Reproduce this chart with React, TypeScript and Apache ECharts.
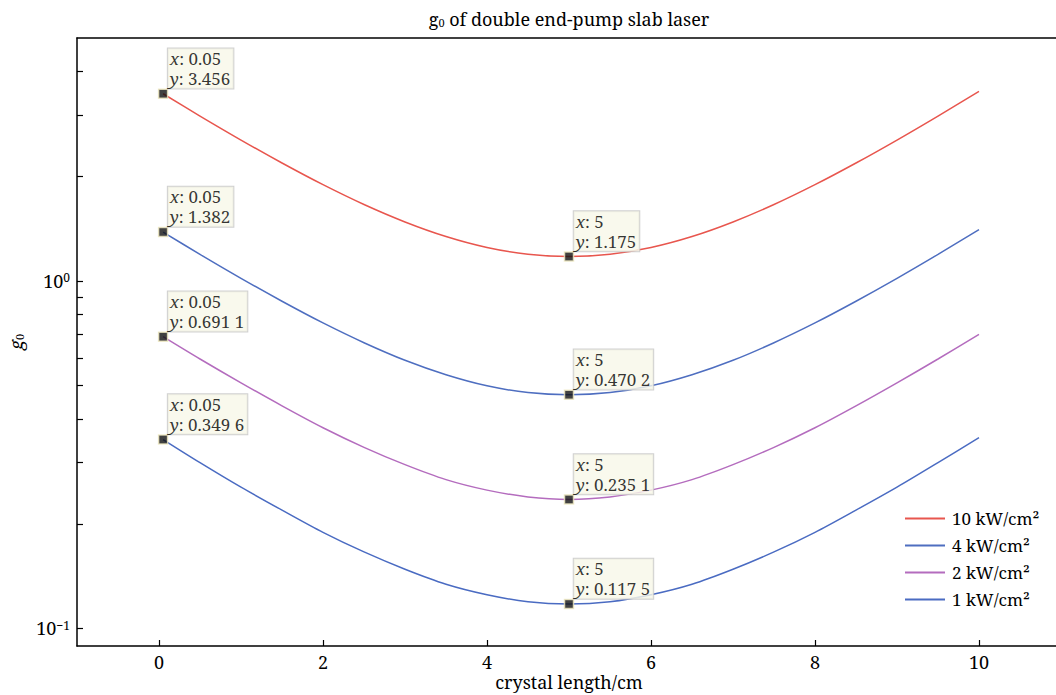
import React, { useEffect, useRef } from "react";
import * as echarts from "echarts";

const xValues = [0.05, 0.5, 1, 1.5, 2, 2.5, 3, 3.5, 4, 4.5, 5, 5.5, 6, 6.5, 7, 7.5, 8, 8.5, 9, 9.5, 10];
const g10 = [3.456, 2.981, 2.543, 2.184, 1.892, 1.659, 1.478, 1.342, 1.248, 1.193, 1.175, 1.193, 1.248, 1.342, 1.478, 1.659, 1.892, 2.184, 2.543, 2.981, 3.511];
const g4 = [1.382, 1.192, 1.017, 0.874, 0.757, 0.664, 0.591, 0.537, 0.499, 0.477, 0.4702, 0.477, 0.499, 0.537, 0.591, 0.664, 0.757, 0.874, 1.017, 1.192, 1.404];
const g2 = [0.6911, 0.596, 0.509, 0.437, 0.378, 0.332, 0.296, 0.268, 0.25, 0.239, 0.2351, 0.239, 0.25, 0.268, 0.296, 0.332, 0.378, 0.437, 0.509, 0.596, 0.702];
const g1 = [0.3496, 0.3, 0.255, 0.219, 0.189, 0.166, 0.148, 0.134, 0.125, 0.1193, 0.1175, 0.1193, 0.125, 0.134, 0.148, 0.166, 0.189, 0.219, 0.255, 0.3, 0.354];

const seriesNames = ["10 kW/cm²", "4 kW/cm²", "2 kW/cm²", "1 kW/cm²"];
const seriesColors = ["#e8564e", "#4e6ec0", "#b46cbe", "#4a6bc2"];
const seriesValues = [g10, g4, g2, g1];

const tipX = [0.05, 5, 0.05, 5, 0.05, 5, 0.05, 5];
const tipY = [3.456, 1.175, 1.382, 0.4702, 0.6911, 0.2351, 0.3496, 0.1175];
const tipXText = ["0.05", "5", "0.05", "5", "0.05", "5", "0.05", "5"];
const tipYText = ["3.456", "1.175", "1.382", "0.470 2", "0.691 1", "0.235 1", "0.349 6", "0.117 5"];

const xTicks = [0, 2, 4, 6, 8, 10];
const yMinorTicks = [0.1, 0.2, 0.3, 0.4, 0.5, 0.6, 0.7, 0.8, 0.9, 1, 2, 3, 4];
const yLabelTicks = [0.1, 1];

const FONT = "Noto Serif";

export default function App() {
  const ref = useRef<HTMLDivElement>(null);
  useEffect(() => {
    if (!ref.current) return;
    const chart = echarts.init(ref.current, undefined, { renderer: "svg" });
    const lineSeries = seriesNames.map((name, i) => ({
      name,
      type: "line",
      data: xValues.map((x, j) => [x, seriesValues[i][j]]),
      showSymbol: false,
      symbol: "none",
      smooth: 0.3,
      lineStyle: { color: seriesColors[i], width: 1.5 },
      itemStyle: { color: seriesColors[i] },
      z: 2,
    }));
    chart.setOption({
      animation: false,
      backgroundColor: "#fff",
      textStyle: { fontFamily: FONT },
      title: {
        text: "{g|g}{s|0}{t| of double end-pump slab laser}",
        left: 564,
        top: 5,
        textAlign: "center",
        textStyle: {
          fontFamily: FONT,
          fontSize: 18,
          fontWeight: "normal",
          color: "#000",
          rich: {
            g: { fontFamily: FONT, fontSize: 18, color: "#000" },
            s: { fontFamily: FONT, fontSize: 11, color: "#000", verticalAlign: "bottom" },
            t: { fontFamily: FONT, fontSize: 18, color: "#000" },
          },
        },
      },
      grid: {
        left: 77,
        top: 38,
        width: 984,
        height: 608,
        outerBoundsMode: "none",
        containLabel: false,
        show: false,
      },
      legend: {
        data: seriesNames,
        orient: "vertical",
        left: 905,
        top: 510,
        padding: 0,
        icon: "rect",
        itemWidth: 40,
        itemHeight: 2,
        itemGap: 10,
        textStyle: { fontFamily: FONT, fontSize: 17, color: "#000", padding: [0, 0, 0, 2] },
      },
      xAxis: [
        {
          type: "value",
          min: -1,
          max: 11,
          name: "crystal length/cm",
          nameLocation: "middle",
          nameGap: 27,
          nameMoveOverlap: false,
          nameTextStyle: { fontFamily: FONT, fontSize: 18, color: "#000" },
          axisLine: { show: true, onZero: false, lineStyle: { color: "#000", width: 1.5 } },
          axisTick: { show: true, inside: true, length: 6, customValues: xTicks, lineStyle: { color: "#000", width: 1.2 } },
          axisLabel: { customValues: xTicks, margin: 7, fontFamily: FONT, fontSize: 18, color: "#000" },
          splitLine: { show: false },
        },
        {
          type: "value",
          position: "top",
          min: -1,
          max: 11,
          axisLine: { show: true, onZero: false, lineStyle: { color: "#000", width: 1.5 } },
          axisTick: { show: false },
          axisLabel: { show: false },
          splitLine: { show: false },
        },
      ],
      yAxis: {
        type: "log",
        logBase: 10,
        min: 0.089,
        max: 5,
        name: "{i|g}{s|0}",
        nameLocation: "middle",
        nameGap: 52,
        nameMoveOverlap: false,
        nameRotate: 90,
        nameTextStyle: {
          fontFamily: FONT,
          fontSize: 18,
          color: "#000",
          rich: {
            i: { fontFamily: FONT, fontSize: 18, fontStyle: "italic", color: "#000" },
            s: { fontFamily: FONT, fontSize: 11, color: "#000", verticalAlign: "bottom" },
          },
        },
        axisLine: { show: true, onZero: false, lineStyle: { color: "#000", width: 1.5 } },
        axisTick: { show: true, inside: true, length: 6, customValues: yMinorTicks, lineStyle: { color: "#000", width: 1.2 } },
        axisLabel: {
          customValues: yLabelTicks,
          margin: 7,
          formatter: (v: number) => (Math.abs(v - 1) < 1e-6 ? "{b|10}{s|0}" : "{b|10}{s|−1}"),
          rich: {
            b: { fontFamily: FONT, fontSize: 18, color: "#000" },
            s: { fontFamily: FONT, fontSize: 12, color: "#000", verticalAlign: "top" },
          },
        },
        splitLine: { show: false },
      },
      series: [
        ...lineSeries,
        {
          name: "datatips",
          type: "scatter",
          data: tipX.map((x, i) => [x, tipY[i]]),
          symbol: "rect",
          symbolSize: 9,
          itemStyle: { color: "#111", borderColor: "#efe9c0", borderWidth: 1.5 },
          z: 5,
          label: {
            show: true,
            position: [10, -40],
            formatter: (p: any) => `{i|x}: ${tipXText[p.dataIndex]}\n{i|y}: ${tipYText[p.dataIndex]}`,
            backgroundColor: "#f8f8e8",
            borderColor: "#c4c4c4",
            borderWidth: 1,
            padding: [0, 3, 0, 2],
            fontFamily: FONT,
            fontSize: 17,
            lineHeight: 20,
            color: "#000",
            rich: {
              i: { fontFamily: FONT, fontSize: 17, lineHeight: 20, fontStyle: "italic", color: "#000" },
            },
          },
          emphasis: { disabled: true },
        },
      ],
    });
    return () => chart.dispose();
  }, []);
  return <div ref={ref} style={{ position: "absolute", left: 0, top: 0, width: 1056, height: 695 }} />;
}
